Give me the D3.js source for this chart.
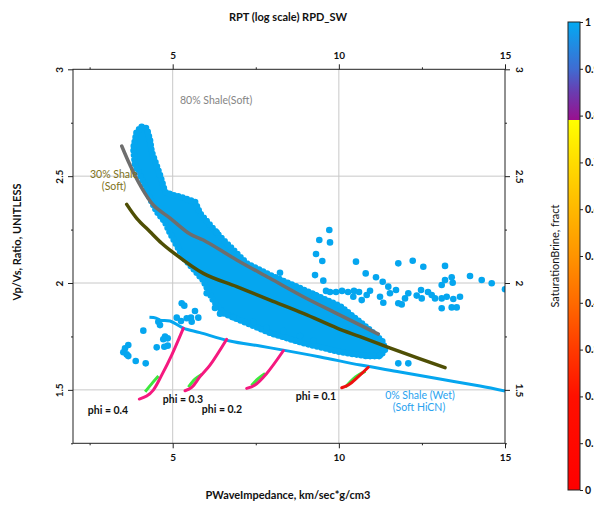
<!DOCTYPE html>
<html>
<head>
<meta charset="utf-8">
<script src="https://cdn.jsdelivr.net/npm/d3@7"></script>
<style>
  body { margin: 0; background: #fff; }
  svg text { font-family: Lato, "Open Sans", "DejaVu Sans", sans-serif; }
</style>
</head>
<body>
<svg id="chart" width="594" height="505"></svg>
<script>
// ---- axis ranges and ticks ----
const xDomain = [2, 15];
const yDomain = [1.25, 3];
const xMajorTicks = [5, 10, 15];
const xMinorTicks = [2.5, 7.5, 12.5];
const yMajorTicks = [1.5, 2, 2.5, 3];
const yMinorTicks = [1.25, 1.75, 2.25, 2.75];
const xGrid = [5, 10];
const yGrid = [1.5, 2, 2.5];
const colorTicks = [1, 0.9, 0.8, 0.7, 0.6, 0.5, 0.4, 0.3, 0.2, 0.1, 0];

// ---- dense log-sample cloud (outline of the overlapping points) ----
const cloudX = [4.067, 4.218, 4.317, 4.368, 4.618, 4.769, 4.979, 5.220, 5.671, 5.822, 6.424, 7.227, 7.928, 8.732, 9.433, 10.035, 10.486, 10.938, 11.329, 11.389,
                11.239, 10.838, 10.035, 9.433, 8.921, 7.928, 7.227, 6.514, 6.213, 5.912, 5.310, 4.919, 4.769, 4.519, 4.317, 4.116, 3.866, 3.815, 3.917];
const cloudY = [2.731, 2.724, 2.669, 2.614, 2.505, 2.427, 2.412, 2.404, 2.380, 2.326, 2.217, 2.092, 2.037, 1.983, 1.934, 1.892, 1.836, 1.780, 1.724, 1.686,
                1.658, 1.658, 1.677, 1.700, 1.719, 1.766, 1.813, 1.859, 1.920, 2.014, 2.122, 2.234, 2.285, 2.334, 2.396, 2.474, 2.552, 2.630, 2.708];

// ---- scattered log samples ----
const sampleX = [9.713, 9.412, 9.734, 9.313, 9.502, 10.516, 11.789, 12.223, 12.542, 13.195, 9.283, 9.532, 10.808, 11.118, 11.320, 11.488,
                 13.947, 14.299, 14.600, 15.0, 13.195, 13.396, 13.426, 13.095,
                 9.734, 9.915, 10.095, 10.276, 10.456, 10.607, 10.435, 10.688, 10.838, 10.938, 11.239, 11.338, 11.539, 11.789, 11.892, 11.991,
                 12.090, 12.343, 12.473, 12.494, 12.794, 12.894, 13.095, 13.246, 13.444, 13.646, 13.095, 13.396, 13.547, 8.229, 9.283, 9.614,
                 11.720, 12.683,
                 5.271, 5.349, 5.671, 5.771, 5.551, 5.572, 5.121, 5.250, 5.422, 4.567, 4.618, 4.116, 4.769, 4.850, 4.717, 4.519, 4.748, 4.850,
                 3.664, 3.565, 3.514, 3.616, 3.664, 3.887, 4.188, 11.789, 12.090, 11.239, 5.121,
                 6.324, 6.023, 6.273, 6.424, 6.825, 7.427, 7.828, 8.329, 8.830, 9.232];
const sampleY = [2.248, 2.201, 2.190, 2.136, 2.103, 2.100, 2.092, 2.104, 2.076, 2.080, 2.037, 2.011, 2.045, 2.027, 2.006, 1.983,
                 2.033, 2.014, 1.999, 1.971, 2.014, 2.027, 2.001, 1.991,
                 1.958, 1.958, 1.963, 1.958, 1.963, 1.958, 1.936, 1.920, 1.944, 1.964, 1.936, 1.908, 1.952, 1.905, 1.900, 1.928,
                 1.952, 1.941, 1.967, 1.928, 1.944, 1.928, 1.928, 1.936, 1.925, 1.936, 1.882, 1.886, 1.886, 2.048, 1.944, 1.963,
                 1.967, 1.958,
                 1.905, 1.894, 1.869, 1.838, 1.838, 1.819, 1.838, 1.822, 1.835, 1.819, 1.803, 1.777, 1.749, 1.741, 1.737, 1.699, 1.702, 1.707,
                 1.710, 1.694, 1.676, 1.666, 1.658, 1.635, 1.624, 1.624, 1.624, 1.663, 2.186,
                 2.236, 1.952, 1.883, 1.856, 1.840, 1.818, 1.791, 1.775, 1.752, 1.730];

// ---- rock physics template trends ----
const shale80X = [3.466, 3.715, 4.016, 4.416, 4.919, 5.521, 5.921, 6.926, 7.928, 8.930, 10.034, 11.188];
const shale80Y = [2.641, 2.552, 2.459, 2.365, 2.304, 2.229, 2.201, 2.108, 2.022, 1.936, 1.850, 1.761];

const shale30X = [3.616, 3.917, 4.317, 4.669, 4.919, 5.921, 6.926, 7.928, 8.930, 9.945, 10.637, 11.841, 13.195];
const shale30Y = [2.368, 2.303, 2.240, 2.186, 2.154, 2.045, 1.983, 1.920, 1.858, 1.789, 1.749, 1.679, 1.604];

const wetX = [4.30, 4.50, 4.62, 4.92, 5.32, 5.82, 6.72, 7.63, 8.33, 9.44, 10.65, 11.84, 13.04, 14.25, 15.0];
const wetY = [1.840, 1.836, 1.826, 1.822, 1.789, 1.768, 1.729, 1.705, 1.686, 1.654, 1.616, 1.584, 1.551, 1.518, 1.495];

// porosity curves: main trace and low-saturation segment
const phiLabels = ["phi = 0.4", "phi = 0.3", "phi = 0.2", "phi = 0.1"];
const phiX = [
  [3.995, 4.218, 4.416, 4.669, 4.970, 5.319],
  [5.370, 5.572, 5.822, 6.123, 6.625],
  [7.227, 7.477, 7.829, 8.329],
  [10.086, 10.285, 10.586, 10.886]
];
const phiY = [
  [1.457, 1.471, 1.499, 1.569, 1.663, 1.788],
  [1.496, 1.512, 1.562, 1.616, 1.737],
  [1.507, 1.523, 1.577, 1.683],
  [1.510, 1.523, 1.562, 1.606]
];
const phiGreenX = [[4.22, 4.45, 4.62], [5.52, 5.72, 5.93], [7.42, 7.62, 7.83], [10.25, 10.55, 10.85]];
const phiGreenY = [[1.491, 1.535, 1.565], [1.513, 1.550, 1.573], [1.520, 1.553, 1.577], [1.513, 1.560, 1.588]];
const phiColors = ["#f5197f", "#f5197f", "#f5197f", "#ee1010"];

// ---- layout ----
const svg = d3.select("#chart");
const L = 73, R = 505, T = 69.3, B = 443.3;
const x = d3.scaleLinear().domain(xDomain).range([L, R]);
const y = d3.scaleLinear().domain(yDomain).range([B, T]);
const blue = "#05a6ef";

svg.append("defs").append("clipPath").attr("id", "plotClip")
  .append("rect").attr("x", L).attr("y", T).attr("width", R - L).attr("height", B - T);

// grid
const grid = svg.append("g").attr("stroke", "#c8c8c8").attr("stroke-width", 1);
grid.selectAll("line.gx").data(xGrid).join("line")
  .attr("x1", d => x(d)).attr("x2", d => x(d)).attr("y1", T).attr("y2", B);
grid.selectAll("line.gy").data(yGrid).join("line")
  .attr("x1", L).attr("x2", R).attr("y1", d => y(d)).attr("y2", d => y(d));

const plot = svg.append("g").attr("clip-path", "url(#plotClip)");

// dense cloud: solid interior plus a ring of round dots along its rim
const cloudPts = cloudX.map((v, i) => [v, cloudY[i]]);
const cloudPath = d3.line().x(d => x(d[0])).y(d => y(d[1])).curve(d3.curveLinearClosed)(cloudPts);
plot.append("path").attr("d", cloudPath)
  .attr("fill", blue).attr("stroke", blue).attr("stroke-width", 2).attr("stroke-linejoin", "round");
plot.append("path").attr("d", cloudPath)
  .attr("fill", "none").attr("stroke", blue).attr("stroke-width", 6.6)
  .attr("stroke-linecap", "round").attr("stroke-dasharray", "0 4.5");

// individual samples
plot.selectAll("circle.s").data(sampleX.map((v, i) => [v, sampleY[i]])).join("circle")
  .attr("cx", d => x(d[0])).attr("cy", d => y(d[1])).attr("r", 3.3).attr("fill", blue);

const line = d3.line().x(d => x(d[0])).y(d => y(d[1])).curve(d3.curveCatmullRom);
const zip = (a, b) => a.map((v, i) => [v, b[i]]);

// wet sand trend
plot.append("path").attr("d", line(zip(wetX, wetY)))
  .attr("fill", "none").attr("stroke", blue).attr("stroke-width", 3);

// shale trends
plot.append("path").attr("d", line(zip(shale80X, shale80Y)))
  .attr("fill", "none").attr("stroke", "#6e6e6e").attr("stroke-width", 3.5).attr("stroke-linecap", "round");
plot.append("path").attr("d", line(zip(shale30X, shale30Y)))
  .attr("fill", "none").attr("stroke", "#4f4f05").attr("stroke-width", 3.5).attr("stroke-linecap", "round");

// porosity curves
phiX.forEach((xs, k) => {
  plot.append("path").attr("d", line(zip(phiGreenX[k], phiGreenY[k])))
    .attr("transform", "translate(-1.6,0)")
    .attr("fill", "none").attr("stroke", "#3ee83e").attr("stroke-width", 3);
  plot.append("path").attr("d", line(zip(xs, phiY[k])))
    .attr("fill", "none").attr("stroke", phiColors[k]).attr("stroke-width", 3).attr("stroke-linecap", "round");
});

// frame
svg.append("rect").attr("x", L).attr("y", T).attr("width", R - L).attr("height", B - T)
  .attr("fill", "none").attr("stroke", "#222").attr("stroke-width", 1);

// axes
function styleAxis(g) {
  g.select(".domain").remove();
  g.selectAll(".tick line").attr("stroke", "#222");
  g.selectAll(".tick text").attr("font-size", 10).attr("font-weight", "bold").attr("fill", "#111");
}
svg.append("g").attr("transform", `translate(0,${B})`)
  .call(d3.axisBottom(x).tickValues(xMajorTicks).tickSize(5).tickPadding(6).tickFormat(d3.format("d"))).call(styleAxis);
svg.append("g").attr("transform", `translate(0,${B})`)
  .call(d3.axisBottom(x).tickValues(xMinorTicks).tickSize(2).tickFormat("")).call(styleAxis);
svg.append("g").attr("transform", `translate(0,${T})`)
  .call(d3.axisTop(x).tickValues(xMajorTicks).tickSize(5).tickPadding(5).tickFormat(d3.format("d"))).call(styleAxis);
svg.append("g").attr("transform", `translate(0,${T})`)
  .call(d3.axisTop(x).tickValues(xMinorTicks).tickSize(2).tickFormat("")).call(styleAxis);

const yl = svg.append("g").attr("transform", `translate(${L},0)`)
  .call(d3.axisLeft(y).tickValues(yMajorTicks).tickSize(5).tickFormat(d => String(d))).call(styleAxis);
yl.selectAll(".tick text").attr("x", null).attr("dy", null)
  .attr("text-anchor", "middle").attr("transform", "translate(-14,0) rotate(-90)").attr("dy", "0.35em");
svg.append("g").attr("transform", `translate(${L},0)`)
  .call(d3.axisLeft(y).tickValues(yMinorTicks).tickSize(2).tickFormat("")).call(styleAxis);

const yr = svg.append("g").attr("transform", `translate(${R},0)`)
  .call(d3.axisRight(y).tickValues(yMajorTicks).tickSize(5).tickFormat(d => String(d))).call(styleAxis);
yr.selectAll(".tick text").attr("x", null).attr("dy", null)
  .attr("text-anchor", "middle").attr("transform", "translate(14,0) rotate(90)").attr("dy", "0.35em");
svg.append("g").attr("transform", `translate(${R},0)`)
  .call(d3.axisRight(y).tickValues(yMinorTicks).tickSize(2).tickFormat("")).call(styleAxis);

// titles
svg.append("text").attr("x", 288).attr("y", 21).attr("text-anchor", "middle")
  .attr("font-size", 11).attr("font-weight", "bold").attr("fill", "#111").text("RPT (log scale) RPD_SW");
svg.append("text").attr("x", 288).attr("y", 499).attr("text-anchor", "middle")
  .attr("font-size", 11).attr("font-weight", "bold").attr("fill", "#111").text("PWaveImpedance, km/sec*g/cm3");
svg.append("text").attr("transform", "translate(21,242) rotate(-90)").attr("text-anchor", "middle")
  .attr("font-size", 11).attr("font-weight", "bold").attr("fill", "#111").text("Vp/Vs, Ratio, UNITLESS");

// curve annotations
svg.append("text").attr("x", 180).attr("y", 104).attr("font-size", 10.5).attr("fill", "#858585").text("80% Shale(Soft)");
svg.append("text").attr("x", 114).attr("y", 178).attr("text-anchor", "middle").attr("font-size", 10.5).attr("fill", "#7e7220").text("30% Shale");
svg.append("text").attr("x", 114).attr("y", 190).attr("text-anchor", "middle").attr("font-size", 10.5).attr("fill", "#7e7220").text("(Soft)");
svg.append("text").attr("x", 420).attr("y", 399).attr("text-anchor", "middle").attr("font-size", 10.5).attr("fill", "#2aa3ef").text("0% Shale (Wet)");
svg.append("text").attr("x", 419).attr("y", 411).attr("text-anchor", "middle").attr("font-size", 10.5).attr("fill", "#2aa3ef").text("(Soft HiCN)");

const phiLabelPos = [[108, 414], [183, 403], [222, 413], [316, 400]];
phiLabels.forEach((t, k) => {
  svg.append("text").attr("x", phiLabelPos[k][0]).attr("y", phiLabelPos[k][1]).attr("text-anchor", "middle")
    .attr("font-size", 10.5).attr("font-weight", "bold").attr("fill", "#111").text(t);
});

// colour bar
const cbX = 568, cbW = 12, cbTop = 22, cbBot = 490;
const cy = d3.scaleLinear().domain([0, 1]).range([cbBot, cbTop]);
const grad = svg.select("defs").append("linearGradient").attr("id", "satGrad")
  .attr("x1", 0).attr("y1", 1).attr("x2", 0).attr("y2", 0);
const stops = [
  [0, "#ff0000"], [0.2, "#ff1000"], [0.3, "#ff3a00"], [0.4, "#ff6a00"], [0.5, "#ff9400"],
  [0.6, "#ffb800"], [0.7, "#ffdc00"], [0.79, "#ffff00"], [0.79, "#9a0f8e"], [0.85, "#6a3cb0"],
  [0.9, "#3f6cd2"], [1, "#03aaf2"]
];
stops.forEach(s => grad.append("stop").attr("offset", s[0]).attr("stop-color", s[1]));
svg.append("rect").attr("x", cbX).attr("y", cbTop).attr("width", cbW).attr("height", cbBot - cbTop)
  .attr("fill", "url(#satGrad)").attr("stroke", "#222").attr("stroke-width", 1);
const cbAxis = svg.append("g").attr("transform", `translate(${cbX + cbW},0)`)
  .call(d3.axisRight(cy).tickValues(colorTicks).tickSize(3).tickPadding(2).tickFormat(d => String(d)));
cbAxis.select(".domain").remove();
cbAxis.selectAll(".tick line").attr("stroke", "#222");
cbAxis.selectAll(".tick text").attr("font-size", 10.5).attr("font-weight", "bold").attr("fill", "#111");
svg.append("text").attr("transform", "translate(559,256) rotate(-90)").attr("text-anchor", "middle")
  .attr("font-size", 11).attr("fill", "#111").text("SaturationBrine, fract");
</script>
</body>
</html>
